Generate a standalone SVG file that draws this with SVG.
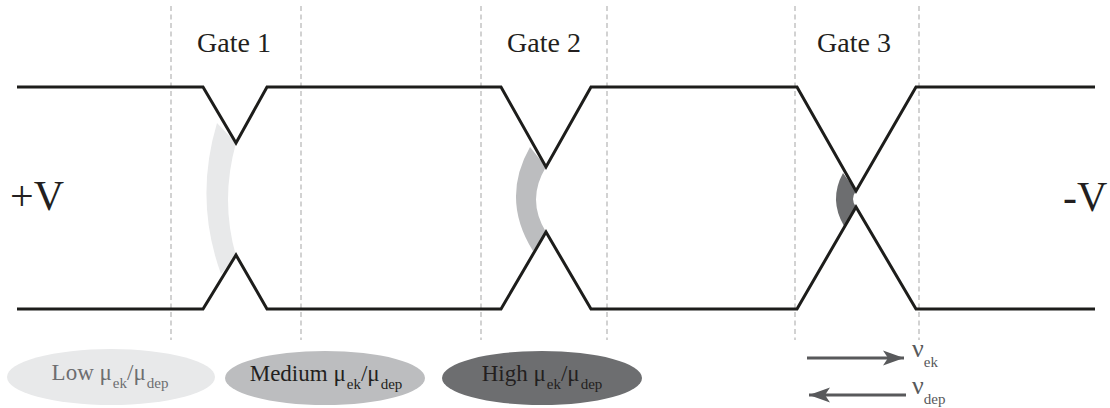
<svg xmlns="http://www.w3.org/2000/svg" width="1110" height="408" viewBox="0 0 1110 408">
<style>
.txt{font-family:"Liberation Serif","DejaVu Serif",serif;fill:#231f20}
.gate{font-size:28px;text-anchor:middle}
.big{font-size:42px}
.leg{font-size:23px;text-anchor:middle}
.dash{stroke:#c4c4c4;stroke-width:1.5;stroke-dasharray:5 3.5;fill:none}
.wall{stroke:#1d1d1b;stroke-width:3;fill:none;stroke-linejoin:miter}
.arr{stroke:#58595b;stroke-width:3;fill:none}
</style>
<defs>
<marker id="ah" markerUnits="userSpaceOnUse" markerWidth="24" markerHeight="18" refX="21" refY="9" orient="auto">
<path d="M0,1.5 L21,9 L0,16.5 L5,9 Z" fill="#58595b"/>
</marker>
</defs>
<rect width="1110" height="408" fill="#ffffff"/>
<g id="guides">
<line class="dash" x1="171" y1="6" x2="171" y2="340"/>
<line class="dash" x1="301" y1="6" x2="301" y2="340"/>
<line class="dash" x1="481" y1="6" x2="481" y2="340"/>
<line class="dash" x1="607" y1="6" x2="607" y2="340"/>
<line class="dash" x1="795" y1="6" x2="795" y2="340"/>
<line class="dash" x1="919" y1="6" x2="919" y2="340"/>
</g>
<g id="gate1">
<path d="M217,123 L236,143 Q220,200 236,256 L221,274 Q194,200 217,123 Z" fill="#e8e9ea"/>
<text class="txt gate" x="234" y="52">Gate 1</text>
</g>
<g id="gate2">
<path d="M530,147 L546,167 Q526,199.5 546,232 L533,251 Q500.5,199 530,147 Z" fill="#bcbdbf"/>
<text class="txt gate" x="544" y="52">Gate 2</text>
</g>
<g id="gate3">
<path d="M843,173 L856,191 Q850,199 856,207 L844,226 Q828.5,199.5 843,173 Z" fill="#6d6e70"/>
<text class="txt gate" x="854" y="52">Gate 3</text>
</g>
<g id="channel">
<path class="wall" d="M17,87 H203 L236,143 L267,87 H501 L546,167 L591,87 H797 L856,191 L916,87 H1095"/>
<path class="wall" d="M17,309 H203 L236,255 L267,309 H501 L546,232 L591,309 H797 L856,207 L916,309 H1095"/>
</g>
<g id="plusV"><text class="txt big" x="10" y="210">+V</text></g>
<g id="minusV"><text class="txt big" x="1063" y="211">-V</text></g>
<g id="legend-low">
<ellipse cx="111" cy="377" rx="104" ry="28" fill="#e8e9ea"/>
<text class="txt leg" x="110" y="380" style="fill:#6d6e70">Low μ<tspan dx="1" dy="8" font-size="15">ek</tspan><tspan dy="-8">/μ</tspan><tspan dx="1" dy="8" font-size="15">dep</tspan></text>
</g>
<g id="legend-medium">
<ellipse cx="325" cy="378" rx="100" ry="27" fill="#bcbdbf"/>
<text class="txt leg" x="326" y="381">Medium μ<tspan dx="1" dy="8" font-size="15">ek</tspan><tspan dy="-8">/μ</tspan><tspan dx="1" dy="8" font-size="15">dep</tspan></text>
</g>
<g id="legend-high">
<ellipse cx="542" cy="378" rx="100" ry="27" fill="#6d6e70"/>
<text class="txt leg" x="542" y="381">High μ<tspan dx="1" dy="8" font-size="15">ek</tspan><tspan dy="-8">/μ</tspan><tspan dx="1" dy="8" font-size="15">dep</tspan></text>
</g>
<g id="connectors">
<line class="arr" x1="807" y1="358" x2="904" y2="358" marker-end="url(#ah)"/>
<line class="arr" x1="906" y1="395" x2="809" y2="395" marker-end="url(#ah)"/>
</g>
<g id="velocity-labels">
<text class="txt" x="912" y="357" font-size="26" style="fill:#58595b">ν<tspan dy="10" font-size="15">ek</tspan></text>
<text class="txt" x="912" y="394" font-size="26" style="fill:#58595b">ν<tspan dy="10" font-size="15">dep</tspan></text>
</g>
</svg>
